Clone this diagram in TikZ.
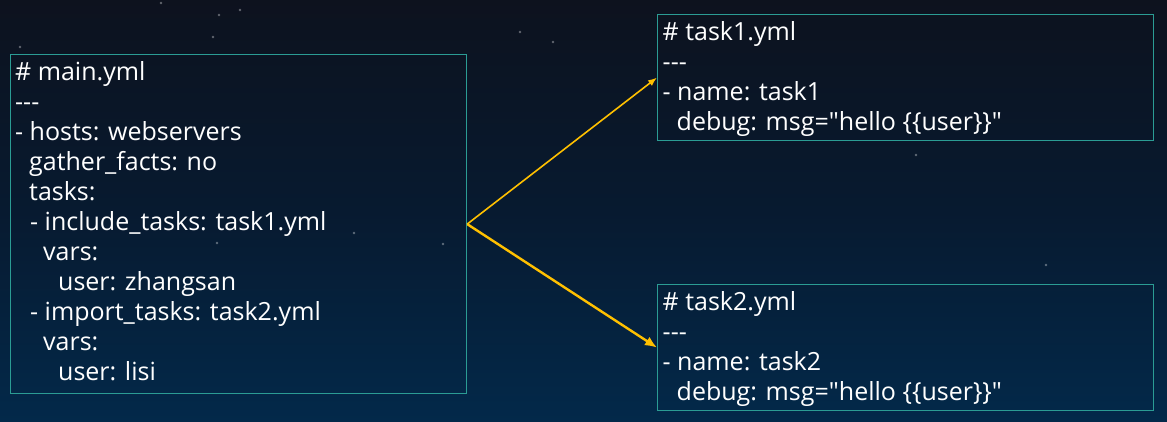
\documentclass[tikz,border=0pt]{standalone}
\usepackage{fontspec}
\newfontfamily\codefont{Open Sans}
\usetikzlibrary{arrows.meta}
\definecolor{bgtop}{HTML}{0D121E}
\definecolor{bgmid}{HTML}{071A30}
\definecolor{bgbot}{HTML}{03294A}
\definecolor{boxline}{HTML}{2B9C94}
\definecolor{arrowcol}{HTML}{FFC000}
\tikzset{
  codebox/.style={draw=boxline, line width=1.2pt, inner sep=0pt, anchor=north west},
  codetext/.style={anchor=base west, inner sep=0pt, text=white,
    font=\codefont\fontsize{25}{30}\selectfont},
  thinarrow/.style={draw=arrowcol, line width=1.6pt, -{Latex[length=9pt,width=7pt]}},
  thickarrow/.style={draw=arrowcol, line width=2.4pt, -{Latex[length=12pt,width=10pt]}},
  stardot/.style={fill=white, fill opacity=0.35}
}
\newcommand{\ind}[1]{\hspace*{#1pt}}
\begin{document}
\begin{tikzpicture}[x=1pt,y=-1pt]
\useasboundingbox (0,0) rectangle (1167,422);
\shade[top color=bgtop, bottom color=bgbot, middle color=bgmid] (0,0) rectangle (1167,422);
% stars
\foreach \p in {(20,47),(161,3),(213,37),(219,15),(240,10),(520,32),(553,42),(916,155),(1046,265),(354,233),(443,244),(217,243)}
  \fill[stardot] \p circle (1.3);
% boxes
\node[codebox, minimum width=456pt, minimum height=339pt] (main) at (10,54) {};
\node[codebox, minimum width=496pt, minimum height=126pt] (t1) at (657,14) {};
\node[codebox, minimum width=496pt, minimum height=126pt] (t2) at (657,284) {};
% texts
\node[codetext] (maintext) at (15,80.7) {\parbox[t]{440pt}{\raggedright
\# main.yml\\
---\\
- hosts: webservers\\
\ind{14}gather\_facts: no\\
\ind{14}tasks:\\
\ind{15}- include\_tasks: task1.yml\\
\ind{28}vars:\\
\ind{43}user: zhangsan\\
\ind{15}- import\_tasks: task2.yml\\
\ind{28}vars:\\
\ind{43}user: lisi}};
\node[codetext] (t1text) at (662.5,40.7) {\parbox[t]{480pt}{\raggedright
\# task1.yml\\
---\\
- name: task1\\
\ind{14}debug: msg="hello \{\{user\}\}"}};
\node[codetext] (t2text) at (662.5,310.7) {\parbox[t]{480pt}{\raggedright
\# task2.yml\\
---\\
- name: task2\\
\ind{14}debug: msg="hello \{\{user\}\}"}};
% arrows
\draw[thinarrow] (main.east) -- (t1.west);
\draw[thickarrow] (main.east) -- (t2.west);
\end{tikzpicture}
\end{document}
